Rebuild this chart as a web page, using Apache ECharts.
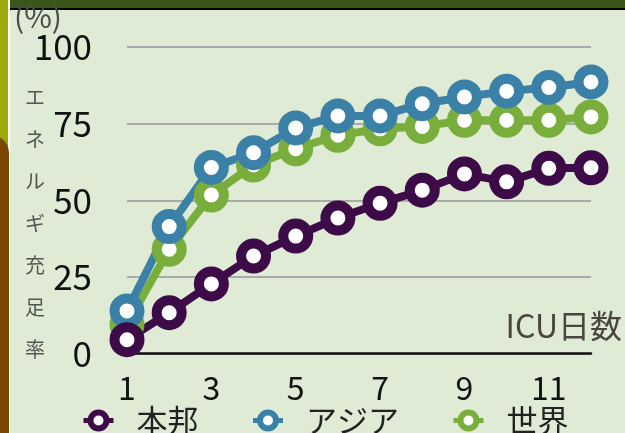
<!DOCTYPE html>
<html><head><meta charset="utf-8">
<script src="https://cdn.jsdelivr.net/npm/echarts@6/dist/echarts.min.js"></script>
<style>html,body{margin:0;padding:0;background:#dfebd4;}#c{width:625px;height:433px;}</style>
</head><body><div id="c"></div>
<script>
const categories = ['1','2','3','4','5','6','7','8','9','10','11','12'];
const seriesNames = ['本邦','アジア','世界'];
const honpo = [4.5, 13.3, 22.7, 31.8, 38.3, 44.2, 49, 53.3, 58.6, 56, 60.4, 60.6];
const asia = [13.9, 41.4, 60.7, 65.5, 73.6, 77.5, 77.5, 81.5, 83.7, 85.6, 86.8, 88.6];
const world = [9.5, 34, 51.7, 61.5, 66.8, 71.2, 73.3, 74.1, 76.1, 76.1, 76.1, 77.2];
const yTitle = 'エネルギ充足率';
const xTitle = 'ICU日数';
const unitLabel = '(%)';

const FONT = '"Noto Sans CJK JP", "Noto Sans", sans-serif';
const colors = {'本邦':'#3d0b47','アジア':'#3a80a7','世界':'#79ae3c'};
function mkSeries(name, data){
  return {
    name, type:'line', data,
    symbol:'circle', symbolSize:25,
    itemStyle:{color:'#ffffff', borderColor:colors[name], borderWidth:10},
    lineStyle:{color:colors[name], width:8},
    emphasis:{disabled:true}
  };
}
const chart = echarts.init(document.getElementById('c'), null, {renderer:'canvas'});
chart.setOption({
  backgroundColor:'#dfebd4',
  animation:false,
  grid:{left:127, right:34, top:47, bottom:79.5, containLabel:false},
  legend:{
    data:seriesNames, left:81, top:405, padding:0,
    itemWidth:30, itemHeight:20, itemGap:52,
    itemStyle:{borderWidth:6},
    lineStyle:{width:5},
    textStyle:{fontFamily:FONT, fontSize:31, color:'#222', padding:[0,0,0,18]}
  },
  xAxis:{
    type:'category', data:categories, boundaryGap:false,
    axisLine:{lineStyle:{color:'#111', width:2.5}},
    axisTick:{show:false},
    axisLabel:{interval:1, fontFamily:FONT, fontSize:32, color:'#111', margin:18},
    splitLine:{show:false}
  },
  yAxis:{
    type:'value', min:0, max:100, interval:25,
    axisLine:{show:false}, axisTick:{show:false},
    axisLabel:{fontFamily:FONT, fontSize:35, color:'#111', margin:35},
    splitLine:{lineStyle:{color:'#aaaaaa', width:2}}
  },
  series:[mkSeries('世界', world), mkSeries('アジア', asia), mkSeries('本邦', honpo)],
  graphic:[
    {type:'rect', shape:{x:9, y:-5, width:630, height:14}, style:{fill:'#38561a', stroke:'#000', lineWidth:2}, z:10},
    {type:'rect', shape:{x:0, y:0, width:8, height:433}, style:{fill:'#9aaa0b'}, z:10},
    {type:'rect', shape:{x:8, y:0, width:2, height:433}, style:{fill:'#ffffff'}, z:10},
    {type:'rect', shape:{x:-20, y:135, width:29, height:320, r:[0,18,0,0]}, style:{fill:'#7a4700'}, z:11},
    {type:'text', left:14, top:2, style:{text:unitLabel, fontFamily:FONT, fontSize:30, fill:'#4d4d4d'}, z:12},
    {type:'text', x:35, y:76, style:{text:yTitle.split('').join('\n'), fontFamily:FONT, fontSize:20, lineHeight:42, fill:'#555', align:'center', verticalAlign:'top'}, z:12},
    {type:'text', x:622, y:326, style:{text:xTitle, fontFamily:FONT, fontSize:32, fill:'#4a4540', align:'right', verticalAlign:'middle'}, z:12}
  ]
});
</script></body></html>
